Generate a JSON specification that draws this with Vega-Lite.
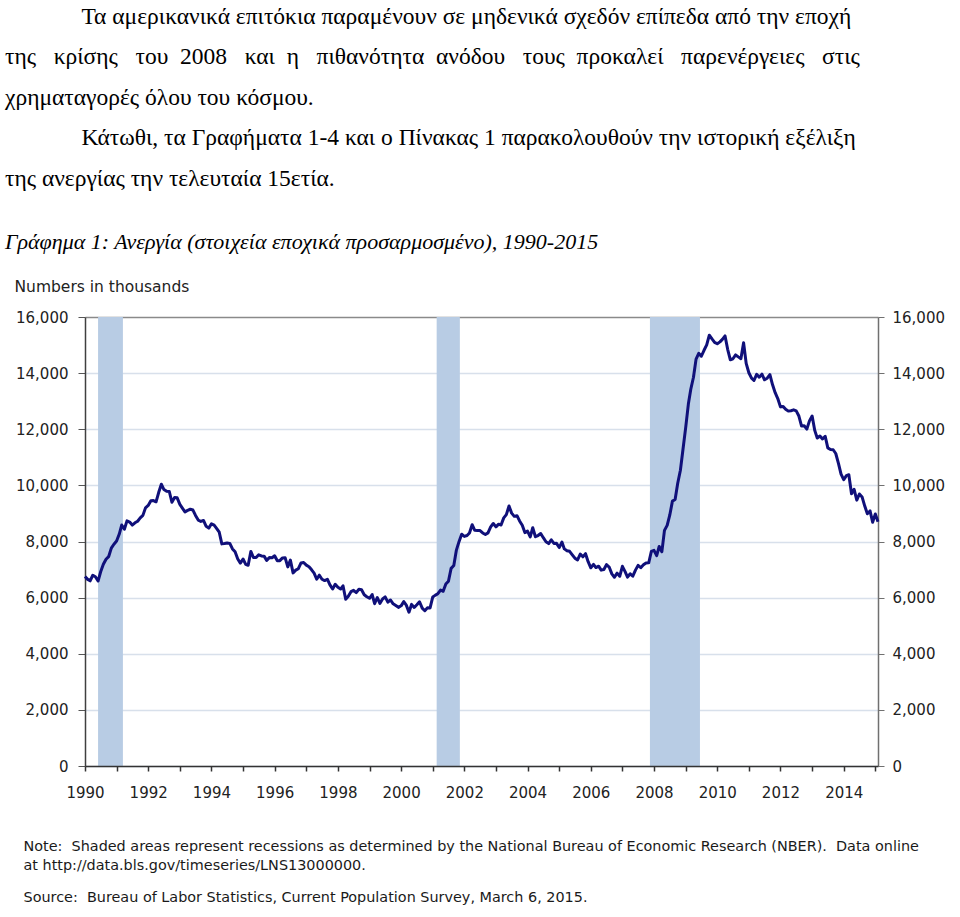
{
  "$schema": "https://vega.github.io/schema/vega-lite/v6.json",
  "width": 793,
  "height": 449,
  "padding": {"left": 5, "top": 4, "right": 5, "bottom": 5},
  "background": "white",
  "title": {
    "text": [
      "\u200b\u00a0\u00a0\u00a0\u00a0\u00a0\u00a0\u00a0\u00a0\u00a0\u00a0\u00a0\u00a0\u00a0Τα αμερικανικά επιτόκια παραμένουν σε μηδενικά σχεδόν επίπεδα από την εποχή",
      "της\u00a0\u00a0\u00a0κρίσης\u00a0\u00a0\u00a0του\u00a0\u00a02008\u00a0\u00a0\u00a0και\u00a0\u00a0η\u00a0\u00a0\u00a0πιθανότητα\u00a0\u00a0ανόδου\u00a0\u00a0\u00a0τους\u00a0\u00a0προκαλεί\u00a0\u00a0\u00a0παρενέργειες\u00a0\u00a0\u00a0στις",
      "χρηματαγορές όλου του κόσμου.",
      "\u200b\u00a0\u00a0\u00a0\u00a0\u00a0\u00a0\u00a0\u00a0\u00a0\u00a0\u00a0\u00a0\u00a0Κάτωθι, τα Γραφήματα 1-4 και ο Πίνακας 1 παρακολουθούν την ιστορική εξέλιξη",
      "της ανεργίας την τελευταία 15ετία."
    ],
    "subtitle": "Γράφημα 1: Ανεργία (στοιχεία εποχικά προσαρμοσμένο), 1990-2015",
    "anchor": "start",
    "frame": "group",
    "dx": -80,
    "font": "Liberation Serif",
    "fontSize": 23.5,
    "fontWeight": "normal",
    "color": "#000000",
    "lineHeight": 40.5,
    "subtitleFont": "Liberation Serif",
    "subtitleFontSize": 22,
    "subtitleFontStyle": "italic",
    "subtitleColor": "#000000",
    "subtitlePadding": 42,
    "offset": 26
  },
  "datasets": {
    "rec": [
      {"start": "1990-06-01", "end": "1991-03-15"},
      {"start": "2001-02-15", "end": "2001-11-10"},
      {"start": "2007-11-15", "end": "2009-06-15"}
    ],
    "unemp": [
      {"date": "1990-01-01", "value": 6752}, {"date": "1990-02-01", "value": 6651}, {"date": "1990-03-01", "value": 6598}, {"date": "1990-04-01", "value": 6797}, {"date": "1990-05-01", "value": 6742}, {"date": "1990-06-01", "value": 6590}, {"date": "1990-07-01", "value": 6922}, {"date": "1990-08-01", "value": 7188}, {"date": "1990-09-01", "value": 7368}, {"date": "1990-10-01", "value": 7459}, {"date": "1990-11-01", "value": 7764}, {"date": "1990-12-01", "value": 7901},
      {"date": "1991-01-01", "value": 8015}, {"date": "1991-02-01", "value": 8265}, {"date": "1991-03-01", "value": 8586}, {"date": "1991-04-01", "value": 8439}, {"date": "1991-05-01", "value": 8736}, {"date": "1991-06-01", "value": 8692}, {"date": "1991-07-01", "value": 8586}, {"date": "1991-08-01", "value": 8666}, {"date": "1991-09-01", "value": 8722}, {"date": "1991-10-01", "value": 8842}, {"date": "1991-11-01", "value": 8931}, {"date": "1991-12-01", "value": 9198},
      {"date": "1992-01-01", "value": 9283}, {"date": "1992-02-01", "value": 9454}, {"date": "1992-03-01", "value": 9460}, {"date": "1992-04-01", "value": 9415}, {"date": "1992-05-01", "value": 9744}, {"date": "1992-06-01", "value": 10040}, {"date": "1992-07-01", "value": 9850}, {"date": "1992-08-01", "value": 9787}, {"date": "1992-09-01", "value": 9781}, {"date": "1992-10-01", "value": 9398}, {"date": "1992-11-01", "value": 9565}, {"date": "1992-12-01", "value": 9557},
      {"date": "1993-01-01", "value": 9325}, {"date": "1993-02-01", "value": 9183}, {"date": "1993-03-01", "value": 9056}, {"date": "1993-04-01", "value": 9110}, {"date": "1993-05-01", "value": 9149}, {"date": "1993-06-01", "value": 9121}, {"date": "1993-07-01", "value": 8930}, {"date": "1993-08-01", "value": 8763}, {"date": "1993-09-01", "value": 8714}, {"date": "1993-10-01", "value": 8750}, {"date": "1993-11-01", "value": 8542}, {"date": "1993-12-01", "value": 8477},
      {"date": "1994-01-01", "value": 8630}, {"date": "1994-02-01", "value": 8583}, {"date": "1994-03-01", "value": 8470}, {"date": "1994-04-01", "value": 8331}, {"date": "1994-05-01", "value": 7915}, {"date": "1994-06-01", "value": 7927}, {"date": "1994-07-01", "value": 7946}, {"date": "1994-08-01", "value": 7933}, {"date": "1994-09-01", "value": 7734}, {"date": "1994-10-01", "value": 7632}, {"date": "1994-11-01", "value": 7375}, {"date": "1994-12-01", "value": 7230},
      {"date": "1995-01-01", "value": 7375}, {"date": "1995-02-01", "value": 7187}, {"date": "1995-03-01", "value": 7153}, {"date": "1995-04-01", "value": 7645}, {"date": "1995-05-01", "value": 7430}, {"date": "1995-06-01", "value": 7427}, {"date": "1995-07-01", "value": 7527}, {"date": "1995-08-01", "value": 7484}, {"date": "1995-09-01", "value": 7478}, {"date": "1995-10-01", "value": 7328}, {"date": "1995-11-01", "value": 7426}, {"date": "1995-12-01", "value": 7423},
      {"date": "1996-01-01", "value": 7491}, {"date": "1996-02-01", "value": 7313}, {"date": "1996-03-01", "value": 7318}, {"date": "1996-04-01", "value": 7415}, {"date": "1996-05-01", "value": 7423}, {"date": "1996-06-01", "value": 7095}, {"date": "1996-07-01", "value": 7337}, {"date": "1996-08-01", "value": 6882}, {"date": "1996-09-01", "value": 6979}, {"date": "1996-10-01", "value": 7031}, {"date": "1996-11-01", "value": 7236}, {"date": "1996-12-01", "value": 7253},
      {"date": "1997-01-01", "value": 7158}, {"date": "1997-02-01", "value": 7102}, {"date": "1997-03-01", "value": 7000}, {"date": "1997-04-01", "value": 6873}, {"date": "1997-05-01", "value": 6655}, {"date": "1997-06-01", "value": 6799}, {"date": "1997-07-01", "value": 6655}, {"date": "1997-08-01", "value": 6608}, {"date": "1997-09-01", "value": 6656}, {"date": "1997-10-01", "value": 6454}, {"date": "1997-11-01", "value": 6308}, {"date": "1997-12-01", "value": 6476},
      {"date": "1998-01-01", "value": 6368}, {"date": "1998-02-01", "value": 6306}, {"date": "1998-03-01", "value": 6422}, {"date": "1998-04-01", "value": 5941}, {"date": "1998-05-01", "value": 6047}, {"date": "1998-06-01", "value": 6212}, {"date": "1998-07-01", "value": 6259}, {"date": "1998-08-01", "value": 6179}, {"date": "1998-09-01", "value": 6300}, {"date": "1998-10-01", "value": 6280}, {"date": "1998-11-01", "value": 6100}, {"date": "1998-12-01", "value": 6032},
      {"date": "1999-01-01", "value": 5976}, {"date": "1999-02-01", "value": 6111}, {"date": "1999-03-01", "value": 5783}, {"date": "1999-04-01", "value": 6004}, {"date": "1999-05-01", "value": 5796}, {"date": "1999-06-01", "value": 5951}, {"date": "1999-07-01", "value": 6025}, {"date": "1999-08-01", "value": 5838}, {"date": "1999-09-01", "value": 5915}, {"date": "1999-10-01", "value": 5778}, {"date": "1999-11-01", "value": 5716}, {"date": "1999-12-01", "value": 5653},
      {"date": "2000-01-01", "value": 5708}, {"date": "2000-02-01", "value": 5858}, {"date": "2000-03-01", "value": 5733}, {"date": "2000-04-01", "value": 5481}, {"date": "2000-05-01", "value": 5758}, {"date": "2000-06-01", "value": 5651}, {"date": "2000-07-01", "value": 5747}, {"date": "2000-08-01", "value": 5853}, {"date": "2000-09-01", "value": 5625}, {"date": "2000-10-01", "value": 5534}, {"date": "2000-11-01", "value": 5639}, {"date": "2000-12-01", "value": 5634},
      {"date": "2001-01-01", "value": 6023}, {"date": "2001-02-01", "value": 6089}, {"date": "2001-03-01", "value": 6141}, {"date": "2001-04-01", "value": 6271}, {"date": "2001-05-01", "value": 6226}, {"date": "2001-06-01", "value": 6484}, {"date": "2001-07-01", "value": 6583}, {"date": "2001-08-01", "value": 7042}, {"date": "2001-09-01", "value": 7142}, {"date": "2001-10-01", "value": 7694}, {"date": "2001-11-01", "value": 8003}, {"date": "2001-12-01", "value": 8258},
      {"date": "2002-01-01", "value": 8182}, {"date": "2002-02-01", "value": 8215}, {"date": "2002-03-01", "value": 8304}, {"date": "2002-04-01", "value": 8599}, {"date": "2002-05-01", "value": 8399}, {"date": "2002-06-01", "value": 8393}, {"date": "2002-07-01", "value": 8390}, {"date": "2002-08-01", "value": 8304}, {"date": "2002-09-01", "value": 8251}, {"date": "2002-10-01", "value": 8307}, {"date": "2002-11-01", "value": 8520}, {"date": "2002-12-01", "value": 8640},
      {"date": "2003-01-01", "value": 8520}, {"date": "2003-02-01", "value": 8618}, {"date": "2003-03-01", "value": 8588}, {"date": "2003-04-01", "value": 8842}, {"date": "2003-05-01", "value": 8957}, {"date": "2003-06-01", "value": 9266}, {"date": "2003-07-01", "value": 9011}, {"date": "2003-08-01", "value": 8896}, {"date": "2003-09-01", "value": 8921}, {"date": "2003-10-01", "value": 8732}, {"date": "2003-11-01", "value": 8576}, {"date": "2003-12-01", "value": 8317},
      {"date": "2004-01-01", "value": 8370}, {"date": "2004-02-01", "value": 8167}, {"date": "2004-03-01", "value": 8491}, {"date": "2004-04-01", "value": 8170}, {"date": "2004-05-01", "value": 8212}, {"date": "2004-06-01", "value": 8286}, {"date": "2004-07-01", "value": 8136}, {"date": "2004-08-01", "value": 7990}, {"date": "2004-09-01", "value": 7927}, {"date": "2004-10-01", "value": 8061}, {"date": "2004-11-01", "value": 7932}, {"date": "2004-12-01", "value": 7934},
      {"date": "2005-01-01", "value": 7784}, {"date": "2005-02-01", "value": 7980}, {"date": "2005-03-01", "value": 7737}, {"date": "2005-04-01", "value": 7672}, {"date": "2005-05-01", "value": 7651}, {"date": "2005-06-01", "value": 7524}, {"date": "2005-07-01", "value": 7406}, {"date": "2005-08-01", "value": 7345}, {"date": "2005-09-01", "value": 7553}, {"date": "2005-10-01", "value": 7453}, {"date": "2005-11-01", "value": 7566}, {"date": "2005-12-01", "value": 7279},
      {"date": "2006-01-01", "value": 7064}, {"date": "2006-02-01", "value": 7184}, {"date": "2006-03-01", "value": 7072}, {"date": "2006-04-01", "value": 7120}, {"date": "2006-05-01", "value": 6980}, {"date": "2006-06-01", "value": 7001}, {"date": "2006-07-01", "value": 7175}, {"date": "2006-08-01", "value": 7091}, {"date": "2006-09-01", "value": 6847}, {"date": "2006-10-01", "value": 6727}, {"date": "2006-11-01", "value": 6872}, {"date": "2006-12-01", "value": 6762},
      {"date": "2007-01-01", "value": 7116}, {"date": "2007-02-01", "value": 6927}, {"date": "2007-03-01", "value": 6731}, {"date": "2007-04-01", "value": 6850}, {"date": "2007-05-01", "value": 6766}, {"date": "2007-06-01", "value": 6979}, {"date": "2007-07-01", "value": 7149}, {"date": "2007-08-01", "value": 7067}, {"date": "2007-09-01", "value": 7170}, {"date": "2007-10-01", "value": 7237}, {"date": "2007-11-01", "value": 7240}, {"date": "2007-12-01", "value": 7645},
      {"date": "2008-01-01", "value": 7685}, {"date": "2008-02-01", "value": 7497}, {"date": "2008-03-01", "value": 7822}, {"date": "2008-04-01", "value": 7637}, {"date": "2008-05-01", "value": 8395}, {"date": "2008-06-01", "value": 8575}, {"date": "2008-07-01", "value": 8937}, {"date": "2008-08-01", "value": 9438}, {"date": "2008-09-01", "value": 9494}, {"date": "2008-10-01", "value": 10074}, {"date": "2008-11-01", "value": 10538}, {"date": "2008-12-01", "value": 11286},
      {"date": "2009-01-01", "value": 12058}, {"date": "2009-02-01", "value": 12898}, {"date": "2009-03-01", "value": 13426}, {"date": "2009-04-01", "value": 13853}, {"date": "2009-05-01", "value": 14499}, {"date": "2009-06-01", "value": 14707}, {"date": "2009-07-01", "value": 14601}, {"date": "2009-08-01", "value": 14814}, {"date": "2009-09-01", "value": 15009}, {"date": "2009-10-01", "value": 15352}, {"date": "2009-11-01", "value": 15219}, {"date": "2009-12-01", "value": 15098},
      {"date": "2010-01-01", "value": 15046}, {"date": "2010-02-01", "value": 15113}, {"date": "2010-03-01", "value": 15202}, {"date": "2010-04-01", "value": 15325}, {"date": "2010-05-01", "value": 14849}, {"date": "2010-06-01", "value": 14474}, {"date": "2010-07-01", "value": 14512}, {"date": "2010-08-01", "value": 14648}, {"date": "2010-09-01", "value": 14579}, {"date": "2010-10-01", "value": 14516}, {"date": "2010-11-01", "value": 15081}, {"date": "2010-12-01", "value": 14348},
      {"date": "2011-01-01", "value": 14013}, {"date": "2011-02-01", "value": 13820}, {"date": "2011-03-01", "value": 13737}, {"date": "2011-04-01", "value": 13957}, {"date": "2011-05-01", "value": 13855}, {"date": "2011-06-01", "value": 13962}, {"date": "2011-07-01", "value": 13763}, {"date": "2011-08-01", "value": 13818}, {"date": "2011-09-01", "value": 13948}, {"date": "2011-10-01", "value": 13594}, {"date": "2011-11-01", "value": 13302}, {"date": "2011-12-01", "value": 13093},
      {"date": "2012-01-01", "value": 12797}, {"date": "2012-02-01", "value": 12813}, {"date": "2012-03-01", "value": 12713}, {"date": "2012-04-01", "value": 12646}, {"date": "2012-05-01", "value": 12660}, {"date": "2012-06-01", "value": 12692}, {"date": "2012-07-01", "value": 12656}, {"date": "2012-08-01", "value": 12471}, {"date": "2012-09-01", "value": 12115}, {"date": "2012-10-01", "value": 12124}, {"date": "2012-11-01", "value": 12005}, {"date": "2012-12-01", "value": 12298},
      {"date": "2013-01-01", "value": 12471}, {"date": "2013-02-01", "value": 11950}, {"date": "2013-03-01", "value": 11689}, {"date": "2013-04-01", "value": 11760}, {"date": "2013-05-01", "value": 11654}, {"date": "2013-06-01", "value": 11751}, {"date": "2013-07-01", "value": 11335}, {"date": "2013-08-01", "value": 11279}, {"date": "2013-09-01", "value": 11270}, {"date": "2013-10-01", "value": 11136}, {"date": "2013-11-01", "value": 10787}, {"date": "2013-12-01", "value": 10404},
      {"date": "2014-01-01", "value": 10202}, {"date": "2014-02-01", "value": 10349}, {"date": "2014-03-01", "value": 10380}, {"date": "2014-04-01", "value": 9702}, {"date": "2014-05-01", "value": 9859}, {"date": "2014-06-01", "value": 9474}, {"date": "2014-07-01", "value": 9694}, {"date": "2014-08-01", "value": 9589}, {"date": "2014-09-01", "value": 9262}, {"date": "2014-10-01", "value": 8990}, {"date": "2014-11-01", "value": 9090}, {"date": "2014-12-01", "value": 8688},
      {"date": "2015-01-01", "value": 8979}, {"date": "2015-02-01", "value": 8705}
    ]
  },
  "layer": [
    {
      "data": {"name": "rec"},
      "mark": {"type": "rect", "color": "#b8cce4", "opacity": 1},
      "encoding": {
        "x": {
          "field": "start",
          "type": "temporal",
          "scale": {
            "type": "utc",
            "nice": false,
            "domain": [
              {"year": 1990, "month": 1, "date": 1, "utc": true},
              {"year": 2015, "month": 2, "date": 1, "utc": true}
            ]
          },
          "axis": {
            "orient": "bottom",
            "title": [
              "Note:\u00a0\u00a0Shaded areas represent recessions as determined by the National Bureau of Economic Research (NBER).\u00a0\u00a0Data online",
              "at http://data.bls.gov/timeseries/LNS13000000."
            ],
            "titleFont": "DejaVu Sans",
            "titleFontSize": 14.4,
            "titleFontWeight": "normal",
            "titleColor": "#1a1a1a",
            "titleAlign": "left",
            "titleBaseline": "top",
            "titleX": -62,
            "titleY": 73,
            "titleLineHeight": 19,
            "tickCount": {"interval": "year", "step": 1},
            "labelExpr": "utcyear(datum.value) % 2 === 0 ? utcFormat(datum.value, '%Y') : ''",
            "labelOverlap": false,
            "labelFlush": false,
            "labelFont": "DejaVu Sans",
            "labelFontSize": 15,
            "labelColor": "#222222",
            "labelPadding": 14,
            "tickSize": 5,
            "tickColor": "#333333",
            "tickWidth": 1.5,
            "domainColor": "#333333",
            "domainWidth": 1.5,
            "grid": false,
            "zindex": 1
          }
        },
        "x2": {"field": "end"}
      }
    },
    {
      "data": {"name": "unemp"},
      "mark": {"type": "line", "color": "#10107a", "strokeWidth": 3, "strokeJoin": "round"},
      "encoding": {
        "x": {"field": "date", "type": "temporal"},
        "y": {
          "field": "value",
          "type": "quantitative",
          "scale": {"domain": [0, 16000], "nice": false},
          "axis": {
            "orient": "left",
            "title": "Numbers in thousands",
            "titleAngle": 0,
            "titleAlign": "left",
            "titleBaseline": "middle",
            "titleX": -71,
            "titleY": -31,
            "titleFont": "DejaVu Sans",
            "titleFontSize": 15.5,
            "titleFontWeight": "normal",
            "titleColor": "#222222",
            "values": [0, 2000, 4000, 6000, 8000, 10000, 12000, 14000, 16000],
            "format": ",d",
            "labelFont": "DejaVu Sans",
            "labelFontSize": 15,
            "labelColor": "#222222",
            "labelPadding": 10,
            "tickSize": 7,
            "tickColor": "#555555",
            "domainColor": "#404040",
            "domainWidth": 1.5,
            "grid": true,
            "gridColor": {"condition": {"test": "datum.value === 16000", "value": "#8a8a8a"}, "value": "#d8e0eb"},
            "gridWidth": 1.5
          }
        }
      }
    },
    {
      "data": {"name": "unemp"},
      "mark": {"type": "line", "strokeOpacity": 0},
      "encoding": {
        "x": {"field": "date", "type": "temporal"},
        "y": {
          "field": "value",
          "type": "quantitative",
          "scale": {"domain": [0, 16000], "nice": false},
          "axis": {
            "orient": "right",
            "title": "Source:\u00a0\u00a0Bureau of Labor Statistics, Current Population Survey, March 6, 2015.",
            "titleAngle": 0,
            "titleAlign": "left",
            "titleBaseline": "middle",
            "titleX": -855,
            "titleY": 580,
            "titleFont": "DejaVu Sans",
            "titleFontSize": 14.4,
            "titleFontWeight": "normal",
            "titleColor": "#1a1a1a",
            "values": [0, 2000, 4000, 6000, 8000, 10000, 12000, 14000, 16000],
            "format": ",d",
            "labelFont": "DejaVu Sans",
            "labelFontSize": 15,
            "labelColor": "#222222",
            "labelPadding": 8,
            "tickSize": 6,
            "tickColor": "#707070",
            "domainColor": "#707070",
            "domainWidth": 1.5,
            "grid": false
          }
        }
      }
    }
  ],
  "resolve": {"scale": {"y": "independent"}},
  "config": {"view": {"stroke": null}}
}
